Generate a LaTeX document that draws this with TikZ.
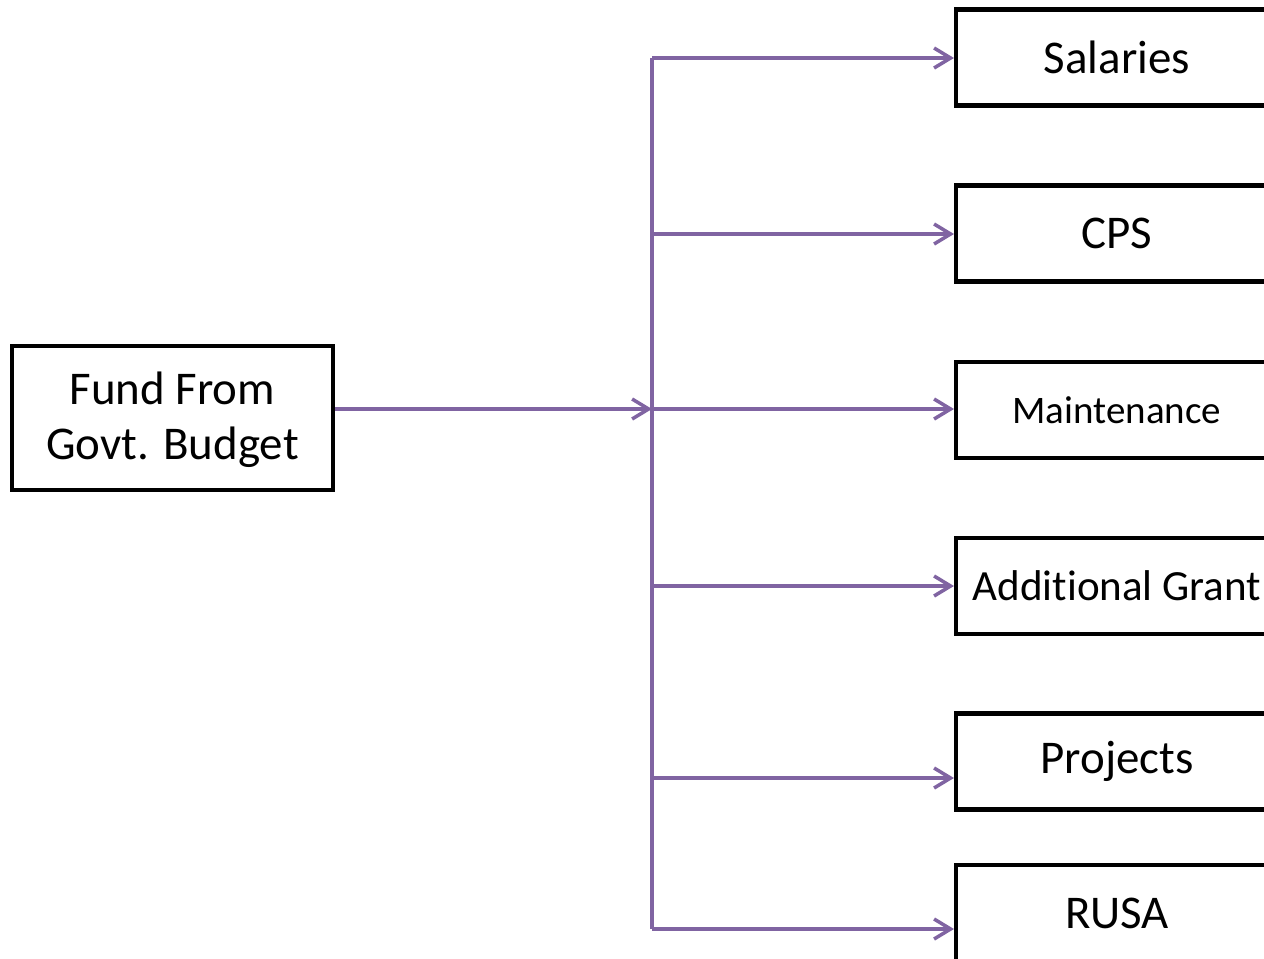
\documentclass[tikz,border=0pt]{standalone}
\usepackage{fontspec}
\setmainfont[Ligatures=NoCommon]{Carlito}
\usetikzlibrary{arrows.meta}
\usetikzlibrary{positioning}
\definecolor{lineColor}{RGB}{128,100,162}
\colorlet{boxColor}{black}
\tikzset{
	fundbox/.style={draw=boxColor,line width=2.3pt,minimum width=6.44cm,minimum height=1.92cm,inner sep=0pt,align=center,font=\fontsize{26.7}{31.3}\selectfont},
	flow/.style={lineColor,line width=2pt},
	flowarrow/.style={flow,-{Straight Barb[length=3.3mm,width=4mm]}}
}

\begin{document}
\begin{tikzpicture}
				\clip (0,0) rectangle (25.28,-19.16);% page size
				\node[fundbox,minimum width=6.42cm,minimum height=2.88cm,text depth=0.1cm] (fund) at (3.45,-8.36) {Fund From\\Govt. Budget};
				\node[fundbox] (salaries) at (22.34,-1.15) {Salaries};
				\node[fundbox] (cps) at (22.34,-4.67) {CPS};
				\node[fundbox,font=\fontsize{22.2}{26}\selectfont] (maint) at (22.34,-8.2) {Maintenance};
				\node[fundbox,font=\fontsize{24.5}{29}\selectfont] (grant) at (22.34,-11.72) {Additional Grant};
				\node[fundbox] (projects) at (22.34,-15.23) {Projects};
				\node[fundbox] (rusa) at (22.34,-18.26) {RUSA};
				% points on the vertical line
				\coordinate (hub) at (13.04,-8.18);
				\coordinate (top) at (13.04,-1.16);
				\coordinate (b2) at (13.04,-4.68);
				\coordinate (b4) at (13.04,-11.72);
				\coordinate (b5) at (13.04,-15.56);
				\coordinate (bottom) at (13.04,-18.58);
				\draw[flow] (top) -- (bottom);
				\draw[flowarrow] (fund.east |- hub) -- (hub);
				\draw[flowarrow] (top) -- (top -| salaries.west);
				\draw[flowarrow] (b2) -- (b2 -| cps.west);
				\draw[flowarrow] (hub) -- (hub -| maint.west);
				\draw[flowarrow] (b4) -- (b4 -| grant.west);
				\draw[flowarrow] (b5) -- (b5 -| projects.west);
				\draw[flowarrow] (bottom) -- (bottom -| rusa.west);
\end{tikzpicture}
\end{document}
